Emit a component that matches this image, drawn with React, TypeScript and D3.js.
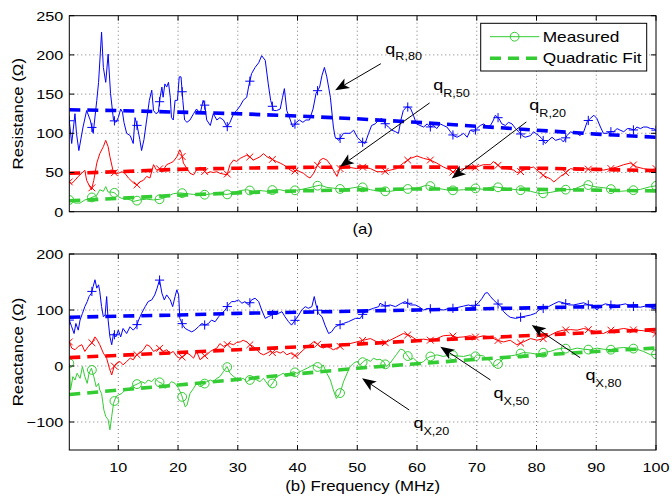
import React from 'react';
import * as d3 from 'd3';

// ---------------- DATA ----------------
const freqTicks = [10, 20, 30, 40, 50, 60, 70, 80, 90, 100];
const freqTickLabels = ['10', '20', '30', '40', '50', '60', '70', '80', '90', '100'];
const resTicks = [0, 50, 100, 150, 200, 250];
const resTickLabels = ['0', '50', '100', '150', '200', '250'];
const reaTicks = [-100, 0, 100, 200];
const reaTickLabels = ['\u2212100', '0', '100', '200'];

const markerFreqs = [1.8, 5.58, 9.35, 13.13, 16.91, 20.69, 24.46, 28.24, 32.02, 35.79, 39.57, 43.35, 47.12, 50.9, 54.68, 58.45, 62.23, 66.01, 69.78, 73.56, 77.34, 81.12, 84.89, 88.67, 92.45, 96.22, 100];

// Resistance, measured [MHz, ohm]
const r80: [number, number][] = [[1.8,116],[2.2,87],[2.75,125],[3.0,100],[3.4,78],[4.1,108],[4.7,129],[5.3,117],[5.8,100],[6.4,142],[6.7,165],[7.2,229],[7.5,184],[7.9,165],[8.3,201],[8.7,151],[9.2,117],[9.6,114],[10.0,120],[10.4,131],[10.7,127],[10.95,114],[11.4,100],[12.0,97],[12.5,87],[12.8,120],[13.2,108],[13.6,92],[13.9,78],[14.3,92],[14.75,117],[15.2,142],[15.6,155],[15.9,129],[16.3,125],[16.7,127],[17.0,146],[17.3,159],[17.5,146],[17.8,163],[18.1,159],[18.4,165],[18.7,146],[18.9,120],[19.2,117],[19.5,142],[19.9,142],[20.2,172],[20.5,172],[20.8,142],[21.1,117],[21.5,114],[22.0,117],[22.6,125],[23.1,131],[23.7,125],[24.2,142],[24.5,135],[24.8,117],[25.4,110],[25.9,125],[26.5,117],[27.0,120],[27.6,117],[28.2,108],[28.7,114],[29.3,125],[29.8,129],[30.4,135],[30.9,142],[31.5,146],[31.8,159],[32.3,176],[32.9,184],[33.5,190],[34.0,199],[34.6,193],[35.1,163],[35.5,142],[36.0,129],[36.5,129],[37.1,131],[37.5,146],[37.8,157],[38.2,129],[38.8,117],[39.2,108],[39.8,114],[40.3,117],[40.9,114],[41.4,117],[42.0,117],[42.6,131],[43.1,151],[43.7,159],[44.1,174],[44.5,184],[44.9,172],[45.5,146],[46.0,108],[46.3,95],[46.9,91],[47.7,100],[48.8,100],[49.4,104],[50.0,95],[50.8,89],[51.3,87],[51.9,100],[52.4,110],[53.0,112],[53.6,117],[54.1,119],[54.7,112],[55.2,108],[55.8,104],[56.4,102],[56.9,100],[57.3,117],[57.7,129],[58.3,134],[58.9,132],[59.4,123],[59.9,112],[60.5,110],[61.1,108],[61.7,112],[62.2,108],[62.8,110],[63.3,106],[63.9,112],[64.4,110],[65.0,108],[65.6,102],[66.1,97],[66.7,95],[67.2,97],[67.8,100],[68.4,95],[68.9,104],[69.5,102],[70.0,106],[70.6,110],[71.2,112],[71.7,108],[72.3,110],[72.8,117],[73.1,123],[73.7,119],[74.2,112],[74.8,110],[75.3,114],[75.9,112],[76.5,106],[77.0,102],[77.6,97],[78.1,95],[79.0,97],[79.5,102],[80.4,97],[80.9,93],[81.5,87],[82.0,91],[82.6,95],[83.2,91],[84.0,93],[84.5,89],[85.1,97],[85.7,102],[86.2,100],[86.8,100],[87.3,97],[87.9,102],[88.5,115],[89.0,119],[89.6,123],[90.1,119],[90.7,108],[91.2,100],[91.8,100],[92.4,102],[92.9,102],[93.5,106],[94.0,104],[94.6,102],[95.2,106],[95.7,106],[96.3,104],[96.8,108],[97.4,106],[97.9,108],[98.5,108],[99.1,106],[99.6,106],[100,104]];

const r50: [number, number][] = [[1.8,38],[2.2,36],[2.75,40],[3.3,45],[3.9,49],[4.4,53],[4.7,40],[5.1,34],[5.5,28],[5.9,40],[6.4,62],[6.9,74],[7.5,83],[7.9,91],[8.3,83],[8.6,70],[9.1,53],[9.4,49],[10.0,49],[10.6,51],[11.1,49],[11.7,43],[12.5,37],[13.1,34],[13.6,38],[14.2,40],[14.75,45],[15.3,43],[15.9,60],[16.4,53],[17.0,55],[17.5,53],[18.1,60],[18.7,62],[19.2,64],[19.8,70],[20.3,79],[20.6,74],[20.9,62],[21.5,55],[22.0,49],[22.6,47],[23.1,53],[23.7,57],[24.2,53],[24.8,49],[25.4,51],[25.9,50],[26.5,51],[27.0,49],[27.6,48],[28.2,47],[28.7,60],[29.3,66],[29.8,64],[30.4,68],[30.9,70],[31.5,72],[32.0,70],[32.6,66],[33.2,68],[33.7,70],[34.3,74],[34.9,70],[35.4,68],[36.0,66],[36.5,64],[37.1,62],[37.6,60],[38.2,57],[38.8,53],[39.3,51],[39.9,53],[40.4,51],[41.0,49],[41.6,45],[42.1,43],[42.7,49],[43.2,57],[43.8,66],[44.3,68],[44.9,66],[45.5,60],[46.0,53],[46.6,45],[47.1,55],[48.3,57],[49.9,55],[51.0,57],[52.2,55],[53.3,51],[54.4,51],[55.5,53],[56.6,55],[57.7,62],[58.9,68],[60.0,71],[61.1,68],[62.2,66],[63.3,62],[64.4,57],[65.6,53],[66.1,50],[66.7,53],[67.8,55],[68.9,55],[70.0,57],[71.1,60],[72.3,60],[72.8,64],[73.4,60],[74.0,57],[75.1,55],[76.2,53],[76.7,50],[77.3,51],[78.4,55],[79.5,57],[80.4,51],[81.2,46],[82.3,42],[82.9,38],[83.4,41],[84.0,45],[84.6,48],[85.7,55],[86.8,53],[87.9,55],[89.0,54],[90.1,55],[91.2,53],[92.4,55],[93.5,57],[94.6,60],[95.7,62],[96.8,57],[97.9,55],[99.1,53],[100,55]];

const r20: [number, number][] = [[1.8,15],[2.2,14],[2.75,11],[3.6,11],[4.4,15],[5.0,16],[5.8,19],[6.4,21],[6.9,28],[7.5,26],[7.9,32],[8.3,25],[8.9,25],[9.4,24],[10.0,19],[10.6,17],[11.1,17],[12.0,15],[12.5,13],[13.6,15],[14.75,16],[15.9,15],[17.0,16],[18.1,19],[19.2,23],[20.3,24],[21.5,23],[22.6,22],[23.7,21],[24.8,22],[25.9,23],[27.0,23],[28.2,22],[29.3,24],[30.4,27],[31.5,28],[32.6,26],[33.7,27],[34.9,26],[36.0,28],[37.1,28],[38.2,26],[39.3,27],[40.4,28],[41.6,30],[42.7,32],[43.8,34],[44.9,31],[46.0,30],[47.7,28.5],[50.5,32],[52.2,28],[53.8,26],[55.5,26],[57.7,28.5],[60.0,30],[61.7,34],[63.3,30],[65.6,27],[67.8,28],[69.5,30],[71.1,28.5],[72.8,32],[74.5,30],[76.7,28],[79.0,26],[80.6,23],[82.3,24.5],[84.5,28],[86.2,28.5],[88.2,35],[89.6,32],[91.8,30],[94.0,26],[95.7,27],[97.4,28.5],[99.1,32],[100,33]];

// Resistance, quadratic fit
const r80Fit: [number, number][] = [[1.8,130],[10,129],[20,127],[30,125],[40,122],[50,118.5],[60,114],[70,109],[80,104],[90,99],[100,95]];
const r50Fit: [number, number][] = [[1.8,49],[10,51],[20,54],[30,55.5],[40,56.5],[50,57],[60,57],[70,56.5],[80,55.5],[90,54],[100,52.5]];
const r20Fit: [number, number][] = [[1.8,14],[10,17],[20,21],[30,24],[40,26.5],[50,28],[60,29],[70,29],[80,28.5],[90,27.5],[100,26.5]];

// Reactance, measured
const x80: [number, number][] = [[1.8,82],[2.2,70],[2.6,58],[2.9,76],[3.3,64],[3.6,82],[4.0,94],[4.4,106],[4.8,115],[5.1,124],[5.5,130],[5.8,142],[6.1,154],[6.4,139],[6.7,145],[6.9,133],[7.2,106],[7.5,88],[7.8,91],[8.05,124],[8.3,82],[8.6,52],[8.9,38],[9.2,58],[9.6,52],[10.0,64],[10.4,52],[10.8,67],[11.4,58],[11.96,70],[12.5,64],[13.0,70],[13.4,82],[13.9,94],[14.5,106],[15.0,115],[15.6,118],[16.1,127],[16.5,139],[16.9,154],[17.3,130],[17.7,118],[18.1,127],[18.7,118],[19.1,106],[19.5,124],[19.8,136],[20.1,127],[20.3,85],[20.8,73],[21.2,67],[21.7,64],[22.3,61],[22.8,64],[23.4,70],[24.0,76],[24.5,73],[25.1,76],[25.6,82],[26.2,79],[26.8,88],[27.3,94],[27.9,100],[28.4,109],[29.0,115],[29.5,115],[30.1,118],[30.7,112],[31.2,115],[31.8,109],[32.3,118],[32.9,121],[33.5,115],[34.0,100],[34.6,85],[35.1,88],[35.7,91],[36.2,97],[36.8,94],[37.4,97],[37.9,88],[38.5,79],[39.0,73],[39.6,82],[40.2,91],[40.7,100],[41.3,106],[41.8,103],[42.4,106],[42.8,124],[43.1,109],[43.5,94],[44.1,88],[44.6,73],[45.2,58],[45.7,61],[46.3,70],[46.9,73],[47.7,76],[48.5,79],[49.7,85],[50.5,85],[51.0,94],[51.9,100],[52.7,103],[53.6,106],[53.8,112],[54.7,107],[55.5,109],[56.4,106],[57.2,111],[58.0,115],[58.9,109],[59.7,109],[60.3,106],[61.1,100],[62.0,103],[62.8,100],[63.6,101],[64.5,100],[65.3,103],[66.1,103],[67.0,105],[67.8,107],[68.6,109],[69.5,106],[70.3,113],[70.9,121],[71.4,130],[71.8,131],[72.3,124],[72.8,118],[73.4,112],[74.0,107],[74.5,97],[75.1,91],[75.6,87],[76.5,85],[77.3,87],[78.1,89],[79.0,91],[79.8,94],[80.4,100],[81.2,103],[82.0,106],[82.9,111],[83.7,115],[84.5,113],[85.4,109],[86.2,109],[87.1,111],[87.9,113],[88.7,109],[89.6,107],[90.1,100],[90.7,107],[91.5,111],[92.4,109],[93.2,107],[94.0,109],[94.9,111],[95.7,107],[96.6,106],[97.4,105],[98.2,107],[99.1,105],[100,103]];

const x50: [number, number][] = [[1.8,43],[2.2,32],[2.75,29],[3.3,35],[3.9,38],[4.4,26],[5.0,35],[5.5,40],[6.1,52],[6.5,46],[6.9,38],[7.5,23],[8.05,14],[8.5,-4],[8.9,-16],[9.3,-1],[9.7,5],[10.3,8],[10.8,2],[11.4,8],[12.0,14],[12.5,11],[13.1,20],[13.6,23],[14.2,29],[14.75,38],[15.3,35],[15.9,26],[16.4,29],[17.0,32],[17.5,26],[18.1,29],[18.7,23],[19.2,26],[19.8,17],[20.3,14],[20.9,17],[21.5,23],[22.0,20],[22.6,14],[23.1,26],[23.7,11],[24.2,17],[24.8,20],[25.4,26],[25.9,29],[26.5,32],[27.0,40],[27.6,35],[28.2,38],[28.7,40],[29.3,38],[29.8,42],[30.4,43],[30.9,46],[31.5,43],[32.0,38],[32.6,35],[33.2,29],[33.7,23],[34.3,20],[34.9,23],[35.4,26],[36.0,23],[36.5,26],[37.1,23],[37.6,26],[38.2,20],[38.8,23],[39.3,20],[39.9,17],[40.4,23],[41.0,29],[41.6,35],[42.1,38],[42.7,43],[43.2,40],[43.8,35],[44.3,32],[44.9,35],[45.5,32],[46.0,29],[46.6,32],[47.1,35],[47.7,38],[48.8,40],[49.9,43],[51.0,46],[52.2,49],[53.3,43],[54.4,40],[55.5,46],[56.6,52],[57.7,58],[58.9,54],[60.0,46],[61.1,48],[62.2,46],[63.3,49],[64.4,54],[65.6,55],[66.7,51],[67.8,52],[68.9,54],[70.0,51],[71.1,54],[72.3,52],[73.4,46],[74.5,43],[75.6,46],[76.7,38],[77.8,43],[79.0,49],[80.1,46],[81.2,49],[82.3,55],[83.4,61],[84.5,64],[85.7,65],[86.8,64],[87.9,67],[89.0,64],[90.1,61],[91.2,58],[92.4,64],[93.5,65],[94.6,67],[95.7,65],[96.8,64],[97.9,63],[99.1,61],[100,58]];

const x20: [number, number][] = [[1.8,5],[2.0,-43],[2.4,-19],[2.75,-25],[3.1,-13],[3.6,-22],[4.0,-1],[4.4,-19],[4.8,-31],[5.1,-13],[5.5,-4],[5.9,-19],[6.3,-37],[6.7,-31],[6.9,-43],[7.2,-49],[7.6,-79],[7.9,-90],[8.3,-96],[8.6,-114],[8.9,-90],[9.2,-67],[9.6,-55],[10.0,-52],[10.6,-49],[11.1,-43],[11.7,-42],[12.2,-37],[12.8,-34],[13.4,-31],[13.9,-28],[14.5,-31],[15.0,-25],[15.6,-28],[16.1,-22],[16.7,-28],[17.3,-31],[17.8,-40],[18.4,-34],[18.9,-28],[19.5,-31],[20.1,-40],[20.6,-52],[21.2,-73],[21.5,-70],[22.0,-49],[22.6,-40],[23.1,-31],[23.7,-37],[24.2,-34],[24.8,-28],[25.4,-25],[25.9,-28],[26.5,-22],[27.0,-19],[27.6,-10],[28.2,-1],[28.7,-13],[29.3,-19],[29.8,-22],[30.4,-25],[30.9,-22],[31.5,-28],[32.0,-25],[32.6,-22],[33.2,-25],[33.7,-28],[34.3,-22],[34.9,-31],[35.4,-37],[36.0,-28],[36.5,-19],[37.1,-16],[37.6,-13],[38.2,-19],[38.8,-13],[39.3,-10],[39.9,-13],[40.4,-10],[41.0,-7],[41.6,-4],[42.1,-1],[42.7,2],[43.2,-1],[43.8,-4],[44.3,2],[44.9,-13],[45.5,-25],[46.0,-43],[46.5,-58],[47.1,-49],[47.7,-28],[48.3,-13],[48.8,-1],[49.4,5],[49.9,8],[50.5,2],[51.0,8],[51.6,12],[52.2,8],[52.7,14],[53.3,11],[53.8,12],[54.4,8],[54.9,-1],[55.5,5],[56.1,14],[56.6,21],[57.2,30],[57.7,29],[58.3,20],[58.9,11],[59.4,14],[60.0,8],[60.5,5],[61.1,8],[61.7,14],[62.2,17],[62.8,18],[63.3,20],[64.4,17],[65.6,20],[66.7,18],[67.8,17],[68.9,20],[69.5,14],[70.0,20],[71.1,18],[72.3,8],[72.8,-1],[73.4,2],[74.0,8],[74.5,14],[75.6,18],[76.7,20],[77.8,24],[79.0,23],[80.1,21],[81.2,24],[82.3,26],[83.4,30],[84.5,32],[85.7,29],[86.8,32],[87.9,30],[89.0,29],[90.1,32],[91.2,30],[92.4,29],[93.5,32],[94.6,33],[95.7,32],[96.8,30],[97.9,26],[99.1,20],[100,21]];

// Reactance, quadratic fit
const x80Fit: [number, number][] = [[1.8,87],[10,89],[20,91],[30,94],[40,96],[50,98],[60,100],[70,102],[80,104],[90,106],[100,108]];
const x50Fit: [number, number][] = [[1.8,15],[10,19],[20,24],[30,29],[40,34],[50,39],[60,45],[70,50],[80,55],[90,60],[100,65]];
const x20Fit: [number, number][] = [[1.8,-51],[10,-43],[20,-34],[30,-24],[40,-14],[50,-4],[60,4],[70,12],[80,19],[90,26],[100,32]];

// annotations: label subscript, text position, arrow tail, arrow tip (MHz, ohm)
const resNotes = [
  { sub: 'R,80', text: [54.7, 201.7], tail: [53.95, 188.8], tip: [46.3, 154.8] },
  { sub: 'R,50', text: [62.7, 154.8], tail: [62.1, 138.7], tip: [47.1, 57.3] },
  { sub: 'R,20', text: [78.8, 129.4], tail: [78.3, 114.5], tip: [65.8, 42.5] },
];
const reaNotes = [
  { sub: 'X,20', text: [59.4, -111], tail: [58.7, -78.6], tip: [50.8, -22] },
  { sub: 'X,50', text: [72.8, -57.7], tail: [72.3, -25], tip: [63.9, 34.5] },
  { sub: 'X,80', text: [88.2, -25], tail: [87.3, 14.8], tip: [79.2, 73.2] },
];

const legendLabels = ['Measured', 'Quadratic Fit'];

// ---------------- STYLE / LAYOUT ----------------
const FONT = "'Liberation Sans', Arial, Helvetica, sans-serif";
const SX = 1.2;
const BLUE = '#0000ff';
const RED = '#ff0000';
const GREEN = '#33cc33';

const xScale = d3.scaleLinear().domain([1.8, 100]).range([69.3, 656]);
const yRes = d3.scaleLinear().domain([0, 250]).range([211.7, 15.7]);
const yRea = d3.scaleLinear().domain([-150, 200]).range([450, 254]);

function T({ x, y, size, anchor = 'start', rot = 0, children }: any) {
  return (
    <text
      transform={`translate(${x},${y}) rotate(${rot}) scale(${SX},1)`}
      fontSize={size}
      textAnchor={anchor}
      fontFamily={FONT}
      fill="#000"
    >
      {children}
    </text>
  );
}

const interp = (s: [number, number][], f: number) => {
  const i = d3.bisector((d: [number, number]) => d[0]).left(s, f);
  if (i <= 0) return s[0][1];
  if (i >= s.length) return s[s.length - 1][1];
  const a = s[i - 1], b = s[i];
  const t = (f - a[0]) / (b[0] - a[0]);
  return a[1] + t * (b[1] - a[1]);
};

function Marker({ type, cx, cy, color }: any) {
  if (type === 'o') return <circle cx={cx} cy={cy} r={4.4} fill="none" stroke={color} strokeWidth={1} />;
  if (type === '+') {
    const h = 4.6;
    return (
      <g stroke={color} strokeWidth={1}>
        <line x1={cx - h} x2={cx + h} y1={cy} y2={cy} />
        <line x1={cx} x2={cx} y1={cy - h} y2={cy + h} />
      </g>
    );
  }
  const h = 3.4;
  return (
    <g stroke={color} strokeWidth={1}>
      <line x1={cx - h} x2={cx + h} y1={cy - h} y2={cy + h} />
      <line x1={cx - h} x2={cx + h} y1={cy + h} y2={cy - h} />
    </g>
  );
}

function Arrow({ x1, y1, x2, y2 }: any) {
  const dx = x2 - x1, dy = y2 - y1;
  const len = Math.hypot(dx, dy);
  const ux = dx / len, uy = dy / len;
  const nx = -uy, ny = ux;
  const L = 14, W = 5.5, N = 3.5;
  const bx = x2 - L * ux, by = y2 - L * uy;
  const pts = [
    [x2, y2],
    [bx + W * nx, by + W * ny],
    [x2 - (L - N) * ux, y2 - (L - N) * uy],
    [bx - W * nx, by - W * ny],
  ];
  return (
    <g>
      <line x1={x1} y1={y1} x2={x2 - (L - N) * ux} y2={y2 - (L - N) * uy} stroke="#000" strokeWidth={1} />
      <polygon points={pts.map((p) => p.join(',')).join(' ')} fill="#000" />
    </g>
  );
}

function Panel({ id, y, yTicks, yTickLabels, series, notes, showXLabels, children }: any) {
  const [x0, x1] = xScale.range();
  const [yb, yt] = y.range();
  const line = d3.line<[number, number]>().x((d) => xScale(d[0])).y((d) => y(d[1]));
  const fitLine = d3
    .line<[number, number]>()
    .x((d) => xScale(d[0]))
    .y((d) => y(d[1]))
    .curveMonotoneX ? d3.line<[number, number]>().x((d) => xScale(d[0])).y((d) => y(d[1])).curve(d3.curveMonotoneX) : line;
  const tk = 5;
  return (
    <g>
      <defs>
        <clipPath id={id}>
          <rect x={x0} y={yt} width={x1 - x0} height={yb - yt} />
        </clipPath>
      </defs>
      <rect x={x0} y={yt} width={x1 - x0} height={yb - yt} fill="#fff" />
      {/* grid */}
      <g stroke="#000" strokeWidth={0.7} strokeDasharray="1,3" opacity={0.75}>
        {freqTicks.filter((f) => f < 100).map((f) => (
          <line key={'gx' + f} x1={xScale(f)} x2={xScale(f)} y1={yb} y2={yt} />
        ))}
        {yTicks.filter((v: number) => y(v) < yb - 0.5 && y(v) > yt + 0.5).map((v: number) => (
          <line key={'gy' + v} x1={x0} x2={x1} y1={y(v)} y2={y(v)} />
        ))}
      </g>
      <g clipPath={`url(#${id})`}>
        {series.map((s: any, i: number) => (
          <g key={i}>
            <path d={line(s.data) || ''} fill="none" stroke={s.color} strokeWidth={1} strokeLinejoin="round" />
            {markerFreqs.map((f) => (
              <Marker key={f} type={s.marker} cx={xScale(f)} cy={y(interp(s.data, f))} color={s.color} />
            ))}
          </g>
        ))}
        {series.map((s: any, i: number) => (
          <path key={'f' + i} d={fitLine(s.fit) || ''} fill="none" stroke={s.color} strokeWidth={3.6} strokeDasharray="11,7" />
        ))}
      </g>
      {/* box + ticks */}
      <rect x={x0} y={yt} width={x1 - x0} height={yb - yt} fill="none" stroke="#000" strokeWidth={1} />
      <g stroke="#000" strokeWidth={1}>
        {freqTicks.map((f) => (
          <g key={'tx' + f}>
            <line x1={xScale(f)} x2={xScale(f)} y1={yb} y2={yb - tk} />
            <line x1={xScale(f)} x2={xScale(f)} y1={yt} y2={yt + tk} />
          </g>
        ))}
        {yTicks.map((v: number) => (
          <g key={'ty' + v}>
            <line x1={x0} x2={x0 + tk} y1={y(v)} y2={y(v)} />
            <line x1={x1} x2={x1 - tk} y1={y(v)} y2={y(v)} />
          </g>
        ))}
      </g>
      {yTicks.map((v: number, i: number) => (
        <T key={'ly' + v} x={x0 - 6} y={y(v) + 4.9} size={13.5} anchor="end">
          {yTickLabels[i]}
        </T>
      ))}
      {showXLabels &&
        freqTicks.map((f, i) => (
          <T key={'lx' + f} x={xScale(f)} y={yb + 21.7} size={13.5} anchor="middle">
            {freqTickLabels[i]}
          </T>
        ))}
      {notes.map((n: any, i: number) => (
        <g key={'n' + i}>
          <Arrow x1={xScale(n.tail[0])} y1={y(n.tail[1])} x2={xScale(n.tip[0])} y2={y(n.tip[1])} />
          <T x={xScale(n.text[0])} y={y(n.text[1])} size={15}>
            q<tspan dy={6.5} fontSize={10.5}>{n.sub}</tspan>
          </T>
        </g>
      ))}
      {children}
    </g>
  );
}

export default function App() {
  const resSeries = [
    { data: r80, fit: r80Fit, color: BLUE, marker: '+' },
    { data: r50, fit: r50Fit, color: RED, marker: 'x' },
    { data: r20, fit: r20Fit, color: GREEN, marker: 'o' },
  ];
  const reaSeries = [
    { data: x80, fit: x80Fit, color: BLUE, marker: '+' },
    { data: x50, fit: x50Fit, color: RED, marker: 'x' },
    { data: x20, fit: x20Fit, color: GREEN, marker: 'o' },
  ];
  const midX = (xScale.range()[0] + xScale.range()[1]) / 2;
  return (
    <svg width={672} height={496} style={{ position: 'absolute', left: 0, top: 0, background: '#fff' }}>
      <rect width={672} height={496} fill="#fff" />
      <Panel id="clipA" y={yRes} yTicks={resTicks} yTickLabels={resTickLabels} series={resSeries} notes={resNotes} showXLabels={false}>
        <g>
          <rect x={480.7} y={23.3} width={166} height={47.7} fill="#fff" stroke="#000" strokeWidth={1} />
          <line x1={490} x2={539.3} y1={36.7} y2={36.7} stroke={GREEN} strokeWidth={1} />
          <circle cx={514.6} cy={36.7} r={4.4} fill="none" stroke={GREEN} strokeWidth={1} />
          <line x1={490} x2={539.3} y1={58.3} y2={58.3} stroke={GREEN} strokeWidth={3.6} strokeDasharray="11,7" />
          <T x={542.7} y={41.8} size={14.4}>{legendLabels[0]}</T>
          <T x={542.7} y={63.4} size={14.4}>{legendLabels[1]}</T>
        </g>
      </Panel>
      <Panel id="clipB" y={yRea} yTicks={reaTicks} yTickLabels={reaTickLabels} series={reaSeries} notes={reaNotes} showXLabels={true} />
      <T x={midX} y={234} size={14} anchor="middle">(a)</T>
      <T x={midX} y={491} size={14} anchor="middle">(b) Frequency (MHz)</T>
      <T x={23} y={113.7} size={14} anchor="middle" rot={-90}>Resistance (Ω)</T>
      <T x={23} y={352} size={14} anchor="middle" rot={-90}>Reactance (Ω)</T>
    </svg>
  );
}
